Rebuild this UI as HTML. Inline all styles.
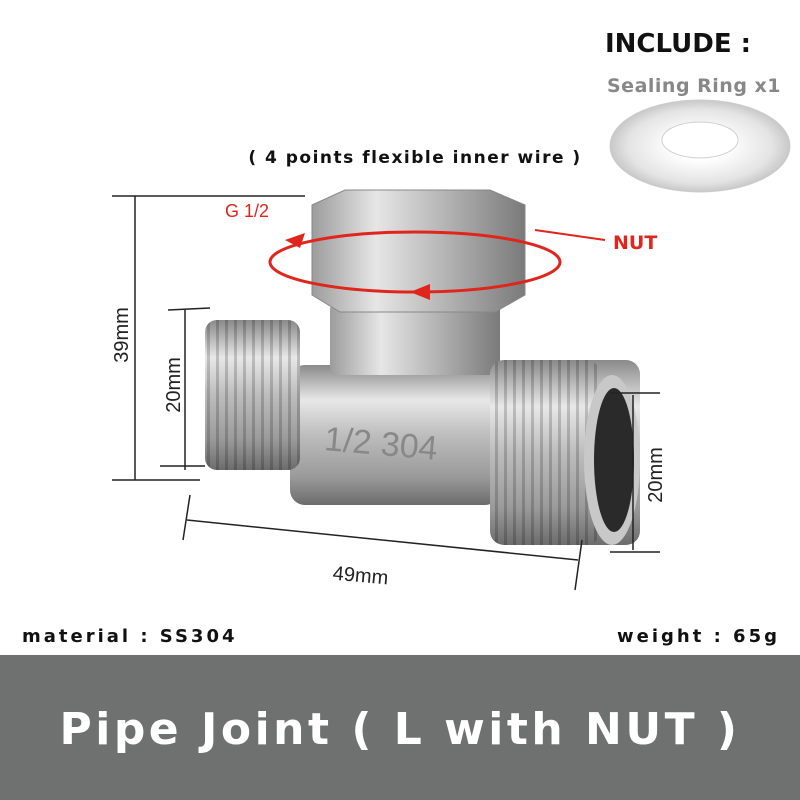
<!DOCTYPE html>
<html><head><meta charset="utf-8"><style>
html,body{margin:0;padding:0;background:#fff;width:800px;height:800px;overflow:hidden;font-family:"Liberation Sans","DejaVu Sans",sans-serif}
</style></head><body>
<svg width="800" height="800" xmlns="http://www.w3.org/2000/svg" style="display:block">
<defs>
<linearGradient id="hv" x1="0" y1="0" x2="0" y2="1">
<stop offset="0" stop-color="#8a8a8a"/><stop offset="0.25" stop-color="#e8e8e8"/><stop offset="0.5" stop-color="#bdbdbd"/><stop offset="0.8" stop-color="#9a9a9a"/><stop offset="1" stop-color="#6c6c6c"/></linearGradient>
<linearGradient id="vh" x1="0" y1="0" x2="1" y2="0">
<stop offset="0" stop-color="#9c9c9c"/><stop offset="0.3" stop-color="#e6e6e6"/><stop offset="0.6" stop-color="#b8b8b8"/><stop offset="1" stop-color="#7a7a7a"/></linearGradient>
<pattern id="thr" width="9" height="10" patternUnits="userSpaceOnUse"><rect width="9" height="10" fill="none"/><rect x="0" width="3" height="10" fill="#000" opacity="0.18"/></pattern>
<radialGradient id="ring" cx="0.5" cy="0.5" r="0.5"><stop offset="0.3" stop-color="#fff"/><stop offset="0.8" stop-color="#e4e4e4"/><stop offset="1" stop-color="#c8c8c8"/></radialGradient>
</defs>
<rect width="800" height="800" fill="#fff"/>
<text x="605" y="52" font-size="26" font-weight="bold" fill="#111" font-family="DejaVu Sans, sans-serif">INCLUDE :</text>
<text x="607" y="92" font-size="19" font-weight="bold" fill="#888" letter-spacing="0.5" font-family="DejaVu Sans, sans-serif">Sealing Ring x1</text>
<ellipse cx="700" cy="146" rx="90" ry="46" fill="url(#ring)" stroke="#ccc"/>
<ellipse cx="700" cy="140" rx="38" ry="18" fill="#fff" stroke="#d0d0d0"/>
<text x="415" y="163" font-size="17" font-weight="bold" fill="#111" text-anchor="middle" letter-spacing="1.5" font-family="DejaVu Sans, sans-serif">( 4 points flexible inner wire )</text>
<!-- fitting -->
<rect x="290" y="365" width="210" height="140" rx="15" fill="url(#hv)"/>
<rect x="330" y="300" width="170" height="75" rx="10" fill="url(#vh)"/>
<polygon points="312,205 345,190 490,190 525,205 525,295 495,312 340,312 312,295" fill="url(#vh)" stroke="#888"/>
<rect x="205" y="320" width="95" height="150" rx="12" fill="url(#hv)"/>
<rect x="205" y="320" width="95" height="150" rx="12" fill="url(#thr)"/>
<rect x="490" y="360" width="150" height="185" rx="14" fill="url(#hv)"/>
<rect x="490" y="360" width="110" height="185" rx="14" fill="url(#thr)"/>
<ellipse cx="612" cy="460" rx="28" ry="85" fill="#c8c8c8"/>
<ellipse cx="614" cy="460" rx="20" ry="72" fill="#2a2a2a"/>
<text x="380" y="455" font-size="34" fill="#888" text-anchor="middle" transform="rotate(5 380 455)">1/2 304</text>
<!-- red -->
<ellipse cx="415" cy="262" rx="145" ry="30" fill="none" stroke="#e0251d" stroke-width="3"/>
<polygon points="285,240 305,233 300,248" fill="#e0251d"/>
<polygon points="410,292 430,284 430,300" fill="#e0251d"/>
<text x="225" y="217" font-size="18" fill="#e0251d">G 1/2</text>
<line x1="535" y1="230" x2="605" y2="240" stroke="#e0251d" stroke-width="2"/>
<text x="613" y="249" font-size="19" font-weight="bold" fill="#e0251d" font-family="DejaVu Sans, sans-serif">NUT</text>
<!-- dims -->
<g stroke="#222" stroke-width="1.5" fill="none">
<line x1="135" y1="196" x2="135" y2="480"/><line x1="112" y1="196" x2="305" y2="196"/><line x1="112" y1="480" x2="200" y2="480"/>
<line x1="185" y1="310" x2="185" y2="470"/><line x1="168" y1="310" x2="210" y2="308"/><line x1="160" y1="466" x2="205" y2="466"/>
<line x1="633" y1="395" x2="633" y2="550"/><line x1="610" y1="393" x2="660" y2="393"/><line x1="610" y1="552" x2="660" y2="552"/>
<line x1="187" y1="520" x2="578" y2="560"/><line x1="190" y1="495" x2="183" y2="540"/><line x1="582" y1="540" x2="575" y2="590"/>
</g>
<text transform="translate(128 335) rotate(-90)" font-size="20" fill="#222" text-anchor="middle">39mm</text>
<text transform="translate(180 385) rotate(-90)" font-size="20" fill="#222" text-anchor="middle">20mm</text>
<text transform="translate(662 475) rotate(-90)" font-size="20" fill="#222" text-anchor="middle">20mm</text>
<text x="360" y="582" font-size="20" fill="#222" text-anchor="middle" transform="rotate(5 360 582)">49mm</text>
<text x="22" y="642" font-size="18" font-weight="bold" fill="#111" letter-spacing="3" font-family="DejaVu Sans, sans-serif">material : SS304</text>
<text x="780" y="642" font-size="18" font-weight="bold" fill="#111" text-anchor="end" letter-spacing="3" font-family="DejaVu Sans, sans-serif">weight : 65g</text>
<rect x="0" y="655" width="800" height="145" fill="#6f7070"/>
<text x="400" y="744" font-size="44" font-weight="bold" fill="#fff" text-anchor="middle" letter-spacing="3.5" font-family="DejaVu Sans, sans-serif">Pipe Joint ( L with NUT )</text>
</svg>
</body></html>
